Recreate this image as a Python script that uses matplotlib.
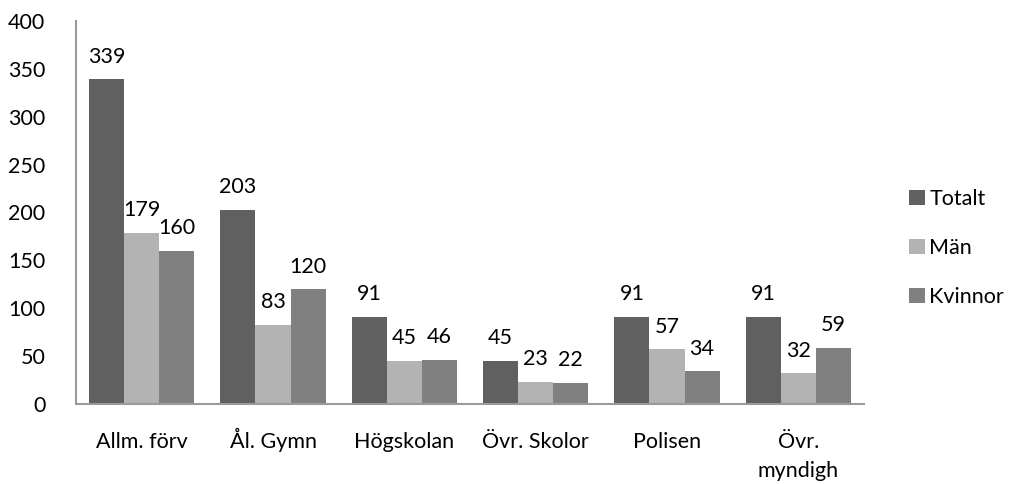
import numpy as np
import matplotlib
matplotlib.use('Agg')
import matplotlib.pyplot as plt
import matplotlib.transforms as mtransforms

categories = ['Allm. förv', 'Ål. Gymn', 'Högskolan', 'Övr. Skolor', 'Polisen', 'Övr.\nmyndigh']
totalt = [339, 203, 91, 45, 91, 91]
man = [179, 83, 45, 23, 57, 32]
kvinnor = [160, 120, 46, 22, 34, 59]
series = [('Totalt', totalt, '#606060'), ('Män', man, '#b3b3b3'), ('Kvinnor', kvinnor, '#808080')]

plt.rcParams['font.family'] = ['Lato', 'DejaVu Sans']

fig = plt.figure(figsize=(10.13, 4.84), dpi=100)
ax = fig.add_axes([76 / 1013, 1 - 404 / 484, (864 - 76) / 1013, (404 - 21) / 484])

x = np.arange(len(categories))
w = 0.8 / 3
for i, (name, vals, col) in enumerate(series):
    pos = x - 0.4 + w / 2 + i * w
    bars = ax.bar(pos, vals, w, color=col, label=name)
    for b, v in zip(bars, vals):
        ax.annotate(str(v), (b.get_x() + b.get_width() / 2, v), xytext=(0, 9),
                    textcoords='offset points', ha='center', va='bottom', fontsize=15.5)

ax.set_xlim(-0.5, len(categories) - 0.5)
ax.set_ylim(0, 400)
ax.set_yticks(range(0, 401, 50))
ax.set_xticks(x)
ax.set_xticklabels(categories, fontsize=15.5, linespacing=1.55)
ax.tick_params(axis='y', labelsize=15.5, length=0, pad=22)
ax.tick_params(axis='x', length=0, pad=20)
# the ring on Å makes that label sit lower, nudge it back up
lbl = ax.get_xticklabels()[1]
lbl.set_transform(lbl.get_transform() + mtransforms.ScaledTranslation(0, 3 / 72, fig.dpi_scale_trans))
for s in ['top', 'right']:
    ax.spines[s].set_visible(False)
for s in ['left', 'bottom']:
    ax.spines[s].set_color('#9a9a9a')
    ax.spines[s].set_linewidth(1.5)

ax.legend(loc='center left', bbox_to_anchor=(898 / 1013, 1 - 248 / 484), bbox_transform=fig.transFigure,
          frameon=False, fontsize=15.5, handlelength=0.75, handleheight=0.75, handletextpad=0.2,
          labelspacing=1.35, borderpad=0)

fig.savefig('out.png', dpi=100)
